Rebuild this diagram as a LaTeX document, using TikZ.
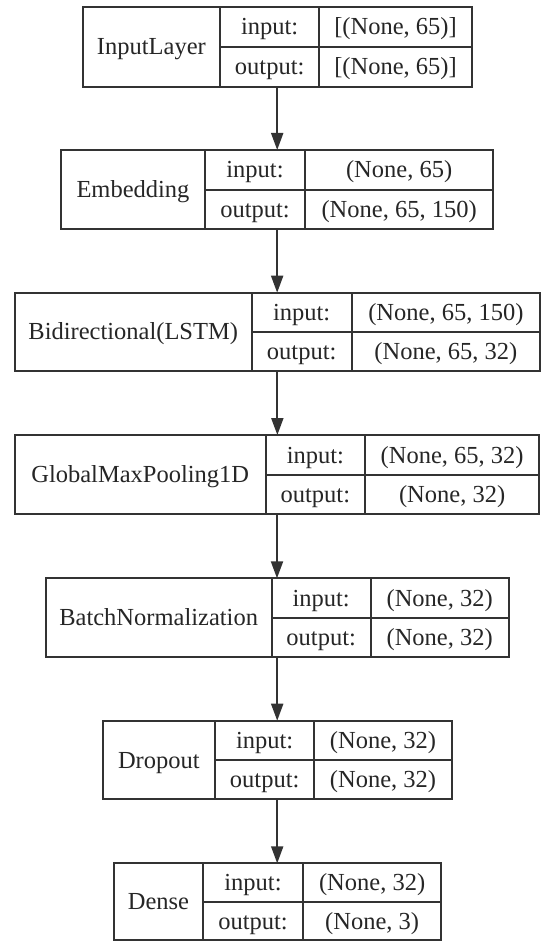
\documentclass[tikz,border=0pt]{standalone}
\usepackage{fontspec}
\setmainfont{Liberation Serif}
\usetikzlibrary{arrows.meta}

\definecolor{edge}{HTML}{333333}
\definecolor{ink}{HTML}{262626}

\tikzset{
  frame/.style={draw=edge, line width=1.8pt, inner sep=0pt, outer sep=0pt, fill=white},
  grid/.style={draw=edge, line width=1.8pt},
  txt/.style={text=ink, inner sep=0pt, anchor=base, yshift=-8pt,
              font=\fontsize{24.5}{28}\selectfont},
  link/.style={draw=edge, line width=2pt,
               -{Triangle[length=17pt, width=12pt]}},
}

% Outer frame of one layer record plus its inner cell lines.
% #1 name, #2 left, #3 first divider, #4 second divider, #5 right,
% #6 top, #7 row divider, #8 bottom (all measured downwards)
\newcommand{\layerframe}[8]{%
  \node[frame, minimum width={#5-#2}, minimum height={#8-#6}, anchor=north west]
    (#1) at (#2,{-#6}) {};
  \draw[grid] (#3,{-#6}) -- (#3,{-#8}) (#4,{-#6}) -- (#4,{-#8})
              (#3,{-#7}) -- (#5,{-#7});
  \coordinate (#1-c0) at ({(#2+#3)/2},{-(#6+#8)/2});
  \coordinate (#1-k1) at ({(#3+#4)/2},{-(#6+#7)/2});
  \coordinate (#1-v1) at ({(#4+#5)/2},{-(#6+#7)/2});
  \coordinate (#1-k2) at ({(#3+#4)/2},{-(#7+#8)/2});
  \coordinate (#1-v2) at ({(#4+#5)/2},{-(#7+#8)/2});
}
% Texts of one layer record: #1 name, #2 layer type, #3 input shape, #4 output shape
\newcommand{\layertext}[4]{%
  \node[txt] (#1-type) at (#1-c0) {#2};
  \node[txt] (#1-inkey) at (#1-k1) {input:};
  \node[txt] (#1-inval) at (#1-v1) {#3};
  \node[txt] (#1-outkey) at (#1-k2) {output:};
  \node[txt] (#1-outval) at (#1-v2) {#4};
}

\begin{document}
\begin{tikzpicture}[x=1pt, y=1pt]
  \fill[white] (0,0) rectangle (541,-941);
  \useasboundingbox (0,0) rectangle (541,-941);

  \layerframe{inl}{82.7}{220}{319.3}{471.7}{7.3}{46.7}{86.7}
  \layertext{inl}{InputLayer}{[(None, 65)]}{[(None, 65)]}

  \layerframe{emb}{61}{205}{305}{493.3}{150}{190}{229}
  \layertext{emb}{Embedding}{(None, 65)}{(None, 65, 150)}

  \layerframe{bid}{14.7}{251.7}{351.7}{540}{292.7}{331.7}{370.7}
  \layertext{bid}{Bidirectional(LSTM)}{(None, 65, 150)}{(None, 65, 32)}

  \layerframe{gmp}{14.7}{265.7}{365}{539.3}{435}{475}{514.3}
  \layertext{gmp}{GlobalMaxPooling1D}{(None, 65, 32)}{(None, 32)}

  \layerframe{bn}{45.7}{271.6}{370.7}{508.7}{578.3}{617.7}{657.3}
  \layertext{bn}{BatchNormalization}{(None, 32)}{(None, 32)}

  \layerframe{drop}{102.7}{215}{314.3}{451.7}{720.7}{760.3}{799.3}
  \layertext{drop}{Dropout}{(None, 32)}{(None, 32)}

  \layerframe{dense}{114.3}{202.7}{303.3}{441}{863.3}{902.3}{940}
  \layertext{dense}{Dense}{(None, 32)}{(None, 3)}

  \draw[link] (inl.south) -- (inl.south |- emb.north);
  \draw[link] (emb.south) -- (emb.south |- bid.north);
  \draw[link] (bid.south) -- (bid.south |- gmp.north);
  \draw[link] (gmp.south) -- (gmp.south |- bn.north);
  \draw[link] (bn.south) -- (bn.south |- drop.north);
  \draw[link] (drop.south) -- (drop.south |- dense.north);
\end{tikzpicture}
\end{document}
